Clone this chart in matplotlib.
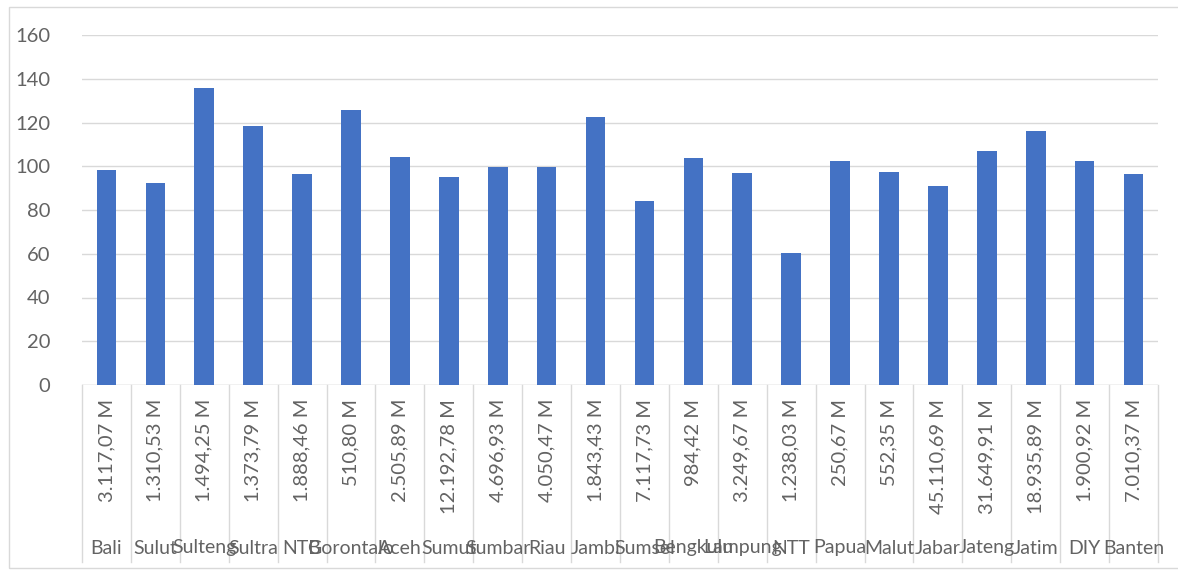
import matplotlib
matplotlib.use('Agg')
import matplotlib.pyplot as plt
import matplotlib.patches as mpatches
import matplotlib.transforms as mtransforms

# ── DATA ────────────────────────────────────────────────────────────────────
provinces = ['Bali', 'Sulut', 'Sulteng', 'Sultra', 'NTB', 'Gorontalo', 'Aceh',
             'Sumut', 'Sumbar', 'Riau', 'Jambi', 'Sumsel', 'Bengkulu', 'Lampung',
             'NTT', 'Papua', 'Malut', 'Jabar', 'Jateng', 'Jatim', 'DIY', 'Banten']
amounts = ['3.117,07 M', '1.310,53 M', '1.494,25 M', '1.373,79 M', '1.888,46 M',
           '510,80 M', '2.505,89 M', '12.192,78 M', '4.696,93 M', '4.050,47 M',
           '1.843,43 M', '7.117,73 M', '984,42 M', '3.249,67 M', '1.238,03 M',
           '250,67 M', '552,35 M', '45.110,69 M', '31.649,91 M', '18.935,89 M',
           '1.900,92 M', '7.010,37 M']
values = [98.3, 92.5, 135.6, 118.4, 96.3, 125.7, 104.1, 95.2, 99.8, 99.8,
          122.4, 84.3, 103.6, 97.1, 60.5, 102.6, 97.5, 91.0, 107.1, 116.3,
          102.6, 96.3]
yticks = [0, 20, 40, 60, 80, 100, 120, 140, 160]

# ── STYLE ────────────────────────────────────────────────────────────────────
BAR = '#4472C4'
GRID = '#D9D9D9'
TEXT = '#636363'
FONT = 'Lato'

W, H = 1178, 571
fig = plt.figure(figsize=(W / 100, H / 100), dpi=100)
fig.patch.set_facecolor('white')

# plot area in pixels: x 82..1158, y 35..385 (from top)
ax = fig.add_axes([82 / W, (H - 385) / H, (1158 - 82) / W, 350 / H])
x = list(range(len(provinces)))
ax.bar(x, values, width=0.4, color=BAR, zorder=3)

ax.set_xlim(-0.5, len(provinces) - 0.5)
ax.set_ylim(0, 160)
ax.set_yticks(yticks)
ax.set_yticklabels([str(v) for v in yticks], fontsize=14.5, color=TEXT,
                   fontfamily=FONT)
ax.tick_params(axis='y', length=0, pad=23)
ax.set_xticks([])
ax.grid(True, axis='y', color=GRID, linewidth=1.0, zorder=0)
for s in ax.spines.values():
    s.set_visible(False)
ax.axhline(0, color=GRID, linewidth=1.0, zorder=2)

# ── MULTI-LEVEL CATEGORY AXIS ────────────────────────────────────────────────
trans = mtransforms.blended_transform_factory(ax.transData, ax.transAxes)
sep_bottom = -177 / 350
for i in range(len(provinces) + 1):
    ax.plot([i - 0.5, i - 0.5], [0, sep_bottom], transform=trans,
            color=GRID, linewidth=1.0, clip_on=False)

for i, (amt, name) in enumerate(zip(amounts, provinces)):
    ax.text(i, -14 / 350, amt, transform=trans, rotation=90,
            ha='center', va='top', fontsize=14.5, color=TEXT, fontfamily=FONT)
    ax.text(i, -163 / 350, name, transform=trans,
            ha='center', va='center', fontsize=14, color=TEXT, fontfamily=FONT)

# chart border
fig.add_artist(mpatches.Rectangle((9 / W, 3 / H), 1.1, (H - 10) / H,
                                  transform=fig.transFigure, fill=False,
                                  edgecolor=GRID, linewidth=1.0))

plt.savefig('out.png', dpi=100, facecolor='white')
plt.close()
